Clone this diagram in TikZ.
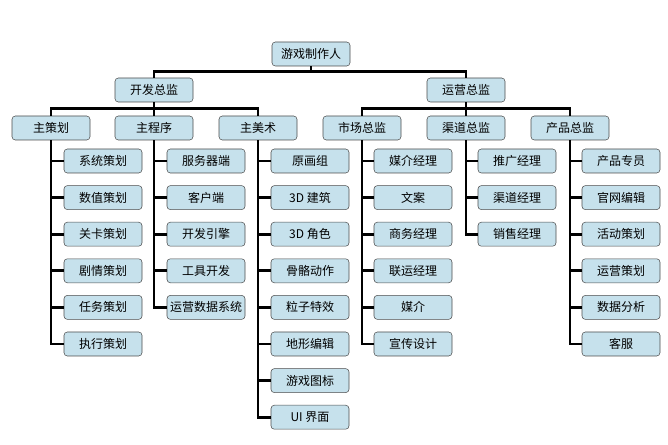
\documentclass[tikz,border=0pt]{standalone}
\usepackage{fontspec}
\newfontfamily\cjk{Noto Sans CJK SC}
\usetikzlibrary{positioning}
\tikzset{
    box/.style={draw=black!70, fill=cyan!20!white!85!gray, rounded corners=2.5pt,
        minimum width=58.5pt, minimum height=18pt, inner sep=1pt, font=\cjk\fontsize{9}{10}\selectfont},
    link/.style={line width=2.2pt, black}
}
\begin{document}
\begin{tikzpicture}[x=0.75pt, y=-0.75pt]
    \useasboundingbox (0,0) rectangle (668,445);
    % top levels
    \node[box] (boss) at (311,54) {游戏制作人};
    \node[box] (dev) at (154,90) {开发总监};
    \node[box] (ops) at (466,90) {运营总监};
    \draw[link] (boss.south) -- ++(0,5) -| (dev.north);
    \draw[link] (boss.south) -- ++(0,5) -| (ops.north);
    \node[box] (h1) at (51,128) {主策划};
    \node[box] (h2) at (154,128) {主程序};
    \node[box] (h3) at (258,128) {主美术};
    \node[box] (h4) at (362,128) {市场总监};
    \node[box] (h5) at (466,128) {渠道总监};
    \node[box] (h6) at (570,128) {产品总监};
    \foreach \h in {1,2,3} \draw[link] (dev.south) -- ++(0,6) -| (h\h.north);
    \foreach \h in {4,5,6} \draw[link] (ops.south) -- ++(0,6) -| (h\h.north);
    % leaves
    \foreach \col/\x/\list in {
        1/103/{系统策划,数值策划,关卡策划,剧情策划,任务策划,执行策划},
        2/206/{服务器端,客户端,开发引擎,工具开发,运营数据系统},
        3/310/{原画组,3D 建筑,3D 角色,骨骼动作,粒子特效,地形编辑,游戏图标,UI 界面},
        4/413/{媒介经理,文案,商务经理,联运经理,媒介,宣传设计},
        5/517/{推广经理,渠道经理,销售经理},
        6/621/{产品专员,官网编辑,活动策划,运营策划,数据分析,客服}}{
        \foreach \t [count=\r] in \list {
            \node[box] (l\col-\r) at (\x,{161+(\r-1)*36.6}) {\t};
            \draw[link] (h\col.south) |- (l\col-\r.west);
        }
    }
\end{tikzpicture}
\end{document}
